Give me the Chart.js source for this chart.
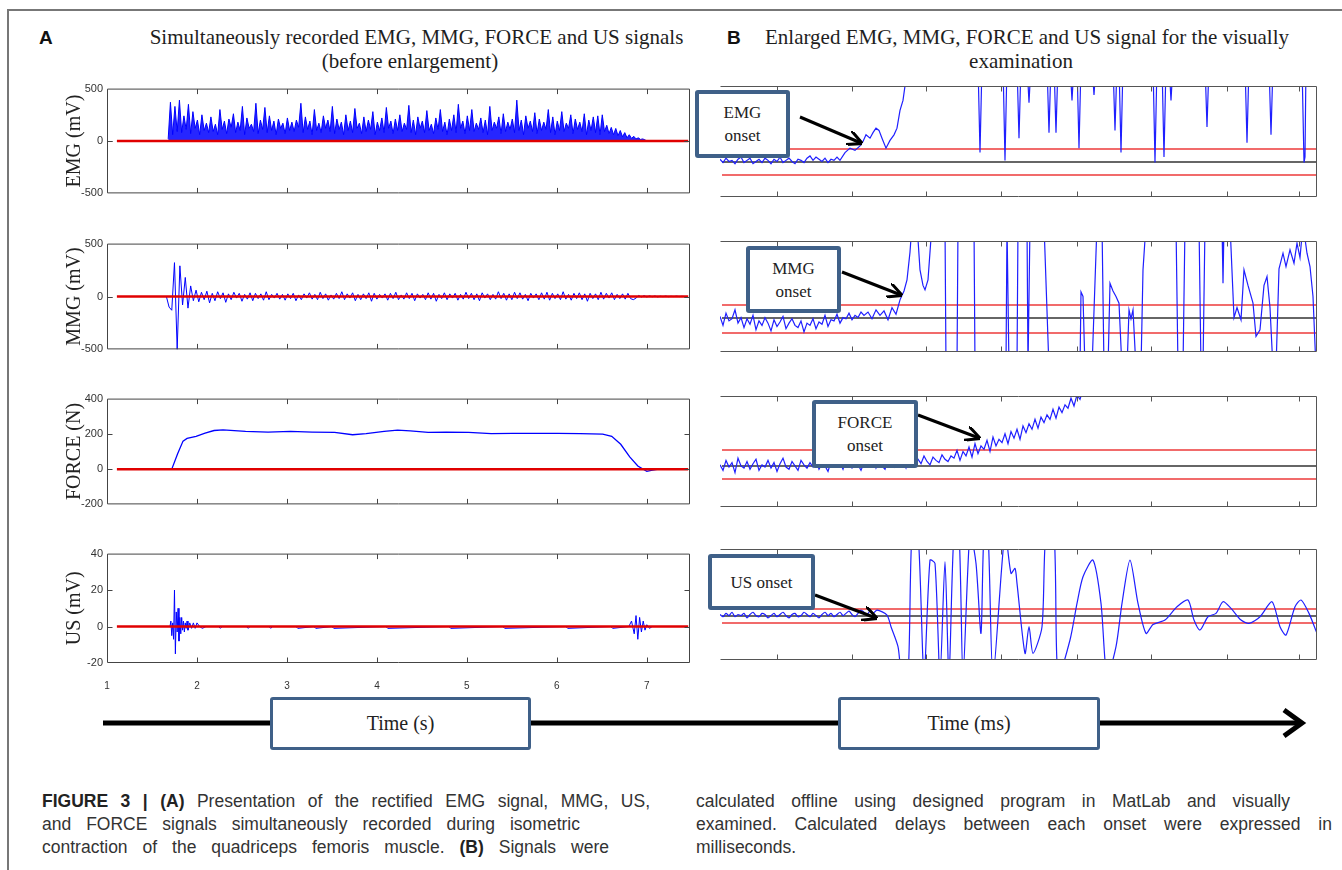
<!DOCTYPE html>
<html>
<head>
<meta charset="utf-8">
<script src="https://cdn.jsdelivr.net/npm/chart.js@4.4.1/dist/chart.umd.min.js"></script>
<style>
  html, body { margin: 0; padding: 0; background: #fff; }
  #page { position: relative; width: 1342px; height: 870px; overflow: hidden; background: #fff; }
  canvas { position: absolute; }
  .frame-top { position: absolute; left: 8px; top: 9px; width: 1334px; height: 0; border-top: 2px solid #777; }
  .frame-left { position: absolute; left: 7px; top: 9px; width: 0; height: 861px; border-left: 2px solid #777; }
  .panel-letter { position: absolute; font: bold 19px "Liberation Sans", Arial, sans-serif; color: #111; }
  .title { position: absolute; font: 21px "Liberation Serif", "Times New Roman", serif; color: #1e1e1e; text-align: center; white-space: nowrap; line-height: 24px; }
  .box { position: absolute; box-sizing: border-box; background: #fff; border: 4px solid #3f6088; border-radius: 3px;
         display: flex; align-items: center; justify-content: center; text-align: center;
         font: 17px "Liberation Serif", "Times New Roman", serif; line-height: 23px; color: #222; z-index: 3; }
  .tbox { border-width: 3px; font-size: 20px; }
  svg { position: absolute; left: 0; top: 0; z-index: 2; }
  .cap { position: absolute; font: 17.5px "Liberation Sans", Arial, sans-serif; color: #333;
         text-align: justify; text-align-last: justify; white-space: nowrap; line-height: 20px; }
  .cap b { color: #222; }
</style>
</head>
<body>
<div id="page">
  <div class="frame-top"></div>
  <div class="frame-left"></div>

  <div class="panel-letter" style="left:39px;top:27px">A</div>
  <div class="title" style="left:145px;top:25px;width:543px">Simultaneously recorded EMG, MMG, FORCE and US signals</div>
  <div class="title" style="left:145px;top:49px;width:530px">(before enlargement)</div>

  <div class="panel-letter" style="left:727px;top:27px">B</div>
  <div class="title" style="left:751px;top:25px;width:552px">Enlarged EMG, MMG, FORCE and US signal for the visually</div>
  <div class="title" style="left:751px;top:49px;width:540px">examination</div>

  <canvas id="emgL" width="632" height="126" style="left:62px;top:78px"></canvas>
  <canvas id="mmgL" width="632" height="127" style="left:62px;top:233px"></canvas>
  <canvas id="forceL" width="632" height="127" style="left:62px;top:388px"></canvas>
  <canvas id="usL" width="632" height="150" style="left:62px;top:543px"></canvas>

  <canvas id="emgR" width="598" height="111" style="left:720px;top:86px"></canvas>
  <canvas id="mmgR" width="598" height="111" style="left:720px;top:241px"></canvas>
  <canvas id="forceR" width="598" height="111" style="left:720px;top:396px"></canvas>
  <canvas id="usR" width="598" height="111" style="left:720px;top:549px"></canvas>

  <svg width="1342" height="870">
    <defs>
      <marker id="ah" viewBox="0 0 10 10" refX="9" refY="5" markerWidth="5" markerHeight="5" orient="auto">
        <path d="M0,0 L10,5 L0,10" fill="none" stroke="#000" stroke-width="2"/>
      </marker>
    </defs>
    <line x1="800" y1="117" x2="861" y2="143" stroke="#000" stroke-width="3" marker-end="url(#ah)"/>
    <line x1="842" y1="272" x2="901" y2="295" stroke="#000" stroke-width="3" marker-end="url(#ah)"/>
    <line x1="918" y1="415" x2="979" y2="438" stroke="#000" stroke-width="3" marker-end="url(#ah)"/>
    <line x1="815" y1="595" x2="876" y2="618" stroke="#000" stroke-width="3" marker-end="url(#ah)"/>
    <line x1="103" y1="723" x2="1300" y2="723" stroke="#000" stroke-width="5"/>
    <polyline points="1284,710 1302,723 1284,736" fill="none" stroke="#000" stroke-width="5"/>
  </svg>

  <div class="box" style="left:695px;top:90px;width:95px;height:68px">EMG<br>onset</div>
  <div class="box" style="left:746px;top:246px;width:95px;height:67px">MMG<br>onset</div>
  <div class="box" style="left:812px;top:400px;width:106px;height:68px">FORCE<br>onset</div>
  <div class="box" style="left:708px;top:554px;width:107px;height:56px">US onset</div>

  <div class="box tbox" style="left:270px;top:697px;width:261px;height:53px">Time (s)</div>
  <div class="box tbox" style="left:838px;top:697px;width:262px;height:53px">Time (ms)</div>

  <div class="cap" style="left:42px;top:791px;width:608px"><b>FIGURE 3 | (A)</b> Presentation of the rectified EMG signal, MMG, US,</div>
  <div class="cap" style="left:42px;top:814px;width:538px">and FORCE signals simultaneously recorded during isometric</div>
  <div class="cap" style="left:42px;top:837px;width:567px">contraction of the quadriceps femoris muscle. <b>(B)</b> Signals were</div>
  <div class="cap" style="left:696px;top:791px;width:594px">calculated offline using designed program in MatLab and visually</div>
  <div class="cap" style="left:696px;top:814px;width:636px">examined. Calculated delays between each onset were expressed in</div>
  <div class="cap" style="left:696px;top:837px;text-align-last:left">milliseconds.</div>
</div>

<script>
// ---- Panel A data (time in s) ----
const timeTicks = [2, 3, 4, 5, 6, 7];
const zeroLineT = [1.11, 7.46];

// rectified EMG, sampled every 0.025 s from 1.68 s
const emgStart = 1.68, emgStep = 0.025;
const emgValues = [
  20, 370, 60, 330, 90, 390, 80, 240, 110, 350,
  70, 280, 120, 200, 60, 250, 100, 170, 80, 230,
  90, 160, 60, 300, 110, 190, 70, 210, 130, 260,
  80, 180, 100, 330, 60, 220, 120, 160, 90, 360,
  70, 200, 110, 320, 80, 240, 100, 190, 60, 210,
  120, 170, 70, 220, 100, 180, 90, 200, 130, 360,
  80, 230, 110, 190, 60, 300, 100, 170, 80, 240,
  120, 200, 90, 330, 70, 210, 110, 180, 60, 250,
  100, 190, 80, 310, 120, 170, 70, 230, 90, 200,
  110, 280, 60, 180, 100, 220, 80, 320, 120, 190,
  70, 210, 100, 250, 90, 170, 110, 340, 80, 200,
  60, 230, 120, 190, 80, 290, 100, 160, 70, 220,
  110, 300, 90, 180, 60, 210, 100, 250, 80, 350,
  120, 190, 70, 240, 100, 300, 90, 170, 110, 220,
  80, 200, 60, 330, 100, 180, 120, 230, 70, 260,
  90, 180, 110, 210, 80, 390, 100, 200, 60, 240,
  120, 190, 90, 270, 70, 210, 100, 180, 110, 300,
  80, 230, 60, 190, 100, 280, 90, 170, 120, 250,
  70, 210, 110, 180, 90, 260, 60, 200, 100, 230,
  80, 240, 60, 250, 90, 150, 70, 130, 60, 120,
  50, 100, 40, 80, 30, 60, 25, 45, 20, 30,
  15, 20, 10, 0
];

// MMG, sampled every 0.03 s from 1.66 s
const mmgStart = 1.66, mmgStep = 0.03;
const mmgValues = [
  0, -100, -130, 320, -500, 290, -80, 180, -110, 100, -40, 60, -50, 40, -30, 50, -60, 30, -40, 45,
  -20, 35, -55, 25, -30, 40, -15, 30, -45, 20,
  -25, 35, -40, 30, -20, 25, -35, 45, -30, 20,
  -15, 30, -25, 20, -35, 25, -20, 30, -40, 15,
  -30, 25, -15, 35, -25, 20, -30, 40, -20, 25,
  -35, 15, -25, 30, -20, 45, -30, 25, -15, 35,
  -40, 20, -30, 25, -20, 35, -45, 30, -25, 20,
  -15, 25, -35, 30, -20, 40, -30, 15, -25, 35,
  -20, 30, -40, 25, -15, 20, -30, 35, -25, 30,
  -45, 20, -20, 35, -30, 25, -15, 30, -35, 20,
  -25, 40, -20, 30, -30, 25, -40, 35, -15, 25,
  -30, 20, -25, 45, -20, 30, -35, 25, -30, 40,
  -20, 35, -25, 20, -40, 30, -15, 25, -30, 35,
  -25, 40, -35, 30, -20, 25, -30, 45, -25, 20,
  -35, 30, -20, 35, -30, 25, -45, 30, -20, 25,
  -30, 40, -25, 30, -15, 35, -30, 20, -20, 25,
  -25, 30, -20,
  -30, -15, 10, -5, 8, -5, 6, -3, 5, -4, 3, -2, 4, -2, 2, -1, 3, -1, 2, 0, 0
];

const forceT = [1.72, 1.785, 1.845, 1.89, 1.99, 2.09, 2.19, 2.29, 2.54, 2.79, 3.04, 3.28, 3.53, 3.73, 3.88, 4.08, 4.23,
  4.37, 4.57, 4.77, 5.02, 5.27, 5.51, 5.76, 6.01, 6.26, 6.51, 6.61, 6.71, 6.81, 6.90, 7.00, 7.05, 7.13];
const forceV = [0, 87, 159, 174, 186, 204, 219, 223, 214, 210, 214, 210, 208, 195, 201, 214, 221,
  217, 208, 210, 208, 201, 203, 203, 203, 201, 199, 186, 141, 69, 18, -13, -7, 0];

const usT = [1.60, 1.70, 1.71, 1.72, 1.73, 1.74, 1.75, 1.76, 1.77, 1.78, 1.79, 1.80, 1.81, 1.82, 1.83, 1.84, 1.85, 1.86,
  1.87, 1.88, 1.89, 1.90, 1.92, 1.94, 1.96, 1.98, 2.00, 2.03, 2.06, 2.10, 2.24, 2.26, 2.28, 2.55, 2.57, 2.59, 2.80, 2.82,
  2.84, 3.10, 3.12, 3.30, 3.32, 3.50, 3.52, 4.10, 4.12, 4.80, 4.82, 5.40, 5.42, 6.10, 6.12, 6.60, 6.62, 6.80, 6.83, 6.86,
  6.88, 6.90, 6.92, 6.94, 6.96, 6.98, 7.00, 7.03, 7.06, 7.45];
const usV = [0, 0, 3, -5, 2, -7, 20, -15, 8, -3, 10, -8, 5, -4, 5, -2, 3, -3,
  2, -1, 3, -2, 2, -1, 2, -1, 2, 0, -1, 0, 0, -1, 0, 0, -1, 0, 0, -1,
  0, 0, -1, 0, -1, 0, -1, 0, -1, 0, -1, 0, -1, 0, -1, 0, -1, 0, 3, -4,
  6, -7, 5, -3, 3, -2, 1, -1, 0, 0];

// ---- Panel B data (time in ms, amplitude in arbitrary 0-100 display units) ----
const msTicks = [57, 132, 206, 281, 357, 431, 507, 579];
const msRange = [2, 597];
const baseStep = 3;

const emgRBase = [34, 31, 35, 32, 33, 30, 34, 36, 31, 33, 35, 30, 32, 34, 31, 35, 33, 30, 34, 32, 36,
  31, 33, 35, 32, 30, 34, 33, 31, 35, 37, 33, 36, 34, 32, 35, 31, 34, 33, 36, 33];
const emgRX = [125, 130, 135, 140, 143, 146, 150, 153, 156, 159, 162, 166, 170, 174, 177, 180, 183, 185, 188,
  258, 260, 262, 283, 285, 287, 297, 299, 301, 307, 309, 311, 327, 329, 331, 334, 336, 338, 350, 352, 354,
  357, 359, 361, 372, 374, 376, 393, 395, 397, 399, 401, 403, 433, 435, 437, 442, 444, 446, 449, 451, 453,
  485, 487, 489, 525, 527, 529, 549, 551, 553, 582, 584, 585, 586, 597];
const emgRY = [40, 44, 42, 46, 50, 56, 53, 58, 62, 60, 53, 44, 51, 56, 62, 78, 87, 100, 120,
  120, 40, 120, 120, 33, 120, 120, 53, 120, 120, 85, 120, 120, 58, 120, 120, 58, 120, 120, 87, 120,
  120, 44, 120, 120, 92, 120, 120, 60, 120, 120, 40, 120, 120, 31, 120, 120, 36, 120, 120, 87, 120,
  120, 63, 120, 120, 49, 120, 120, 56, 120, 120, 31, 36, 120, 120];
const emgRThr = [43.2, 31.5, 19.8];

const mmgRBase = [32, 24, 35, 28, 30, 38, 26, 31,
  22, 30, 25, 33, 20, 28, 24, 31, 26, 19, 29, 23, 27, 32, 21, 26, 30, 24,
  22, 28, 18, 26, 24, 30, 21, 27, 25, 33, 23, 29, 28, 34, 26, 31, 30, 35, 29, 33,
  31, 36, 33];
const mmgRX = [148, 152, 156, 160, 164, 168, 172, 176, 180, 184, 187, 190, 192, 197, 200, 203, 205, 208, 212, 225,
  226, 237, 238, 254, 255, 286, 287, 289, 297, 298, 307, 308, 310, 324, 329, 360, 361, 363, 365, 372,
  377, 382, 384, 388, 390, 393, 396, 399, 402, 407, 409, 411, 413, 416, 421, 423, 426, 456, 458, 463,
  465, 479, 481, 483, 485, 502, 503, 504, 510, 514, 517, 521, 524, 528, 533, 536, 540, 544, 547, 550,
  553, 556, 559, 563, 566, 570, 574, 577, 580, 583, 587, 590, 593, 596];
const mmgRY = [36, 30, 38, 33, 37, 29, 40, 34, 47, 55, 65, 90, 115, 115, 74, 60, 56, 65, 115, 115,
  -15, -15, 115, 115, -15, -15, 115, -15, -15, 115, 115, -15, 115, 115, -15, -15, 54, 50, -15, -15,
  115, 115, -15, -15, 62, 55, 50, 44, -15, -15, 38, 30, 38, -15, -15, 74, 115, 115, -15, -15,
  115, 115, -15, -15, 115, 115, 62, 115, 115, 31, 40, 29, 74, 60, 44, 14, 20, 60, 68, 40,
  -15, -15, 75, 89, 77, 92, 80, 98, 85, 115, 89, 77, 50, -15];
const mmgRThr = [42.3, 30.6, 17.1];

const forceRValues = [
  38, 33, 42, 36, 40, 31, 44, 37, 35, 41, 34, 39, 43, 33, 38, 36, 42, 35, 40, 32,
  39, 44, 36, 34, 41, 37, 33, 42, 38, 35, 40, 36, 43, 34, 39, 37, 32, 41, 38, 36,
  40, 34, 43, 37, 35, 42, 38, 33, 40, 36, 39, 44, 35, 41, 37, 34, 42, 39, 36, 43,
  38, 41, 35, 44, 40, 37, 43, 39, 46, 41, 38, 45, 42, 40, 47, 43, 41, 46, 44,
  51, 42, 50, 46, 54, 45, 57, 48, 55, 52, 60, 50, 63, 55, 61, 58, 66, 57, 68, 62,
  70, 61, 73, 67, 75, 70, 79, 71, 81, 76, 83, 79, 88, 80, 90, 85, 92, 89, 98, 91,
  101, 97, 106, 104
];
const forceRThr = [51.4, 36.9, 25.2];

const usRBase = [41, 39, 42, 40, 43, 39, 41, 40, 42, 38, 41, 43, 40, 39, 42, 41, 38, 40, 42, 39,
  41, 43, 40, 38, 41, 42, 39, 40, 43, 41, 39, 42, 40, 38, 41, 43, 40, 42, 39, 41,
  43, 40, 42, 44, 41, 39, 42, 45, 43, 41, 44, 42];
const usRX = [157, 167, 171, 178, 182, 188, 192, 198, 204, 210, 215, 220, 225, 229, 234, 239, 243, 250, 256, 261,
  264, 268, 273, 285, 291, 295, 297, 305, 309, 313, 322, 326, 334, 338, 350, 357, 363, 373, 381, 387,
  396, 402, 410, 418, 426, 433, 445, 457, 468, 474, 480, 488, 496, 503, 511, 521, 529, 540, 552, 560,
  566, 575, 581, 589, 597];
const usRY = [45, 40.5, 30, 12, -15, -15, 115, 115, -15, 90, 87, -15, 88.6, -15, 115, 115, -15, 115, 87, 24,
  115, 115, -15, 115, 78, 82.5, 69, 6, 30, 6, 30, 115, 115, -15, 18, 51, 75, 90, 51, -15,
  12, 51, 90, 51, 24, 32, 36, 48, 54, 36, 27, 39, 42, 52.5, 46.5, 36, 33, 39, 52.5, 30,
  22.5, 48, 54, 42, 24];
const usRThr = [45.9, 39.6, 33.3];

// ---- helpers ----
function seq(start, step, vals) {
  return vals.map((v, i) => ({ x: +(start + i * step).toFixed(4), y: v }));
}
function pairs(xs, ys) {
  return xs.map((x, i) => ({ x: x, y: ys[i] }));
}
function hline(xr, y) {
  return [{ x: xr[0], y: y }, { x: xr[1], y: y }];
}

const frame = {
  id: 'frame',
  afterDatasetsDraw(chart, args, o) {
    const { ctx, chartArea: a, scales } = chart;
    const L = a.left + 0.5, R = a.right - 0.5, T = a.top + 0.5, B = a.bottom - 0.5;
    ctx.save();
    ctx.strokeStyle = o.color || '#444';
    ctx.lineWidth = 1;
    ctx.beginPath();
    ctx.moveTo(L, T); ctx.lineTo(R, T); ctx.lineTo(R, B); ctx.lineTo(L, B);
    if (o.left !== false) ctx.lineTo(L, T);
    (o.xTicks || []).forEach(v => {
      const p = Math.round(scales.x.getPixelForValue(v)) + 0.5;
      ctx.moveTo(p, T); ctx.lineTo(p, T + 5);
      ctx.moveTo(p, B); ctx.lineTo(p, B - 5);
    });
    (o.yTicks || []).forEach(v => {
      const p = Math.round(scales.y.getPixelForValue(v)) + 0.5;
      ctx.moveTo(L, p); ctx.lineTo(L + 5, p);
      ctx.moveTo(R, p); ctx.lineTo(R - 5, p);
    });
    ctx.stroke();
    ctx.restore();
  }
};

const BLUE = '#0000ff';
const RED = '#e00000';

function leftChart(id, title, min, max, step, signal, withLabels) {
  return new Chart(document.getElementById(id), {
    type: 'line',
    data: {
      datasets: [
        { data: hline(zeroLineT, 0), borderColor: RED, borderWidth: 2.5 },
        signal
      ]
    },
    options: {
      responsive: false, animation: false, events: [],
      layout: { padding: { top: 8, bottom: withLabels ? 0 : 8, right: 4, left: 0 } },
      elements: { point: { radius: 0 }, line: { borderWidth: 1, tension: 0 } },
      plugins: {
        legend: { display: false }, tooltip: { enabled: false },
        frame: { color: '#444', xTicks: timeTicks, yTicks: [min + step, max - step] }
      },
      scales: {
        x: {
          type: 'linear', min: 1, max: 7.48, display: withLabels,
          grid: { display: false, drawTicks: false }, border: { display: false },
          ticks: { stepSize: 1, includeBounds: false, autoSkip: false, maxRotation: 0, padding: 17,
                   color: '#333', font: { family: 'Liberation Sans', size: 10 } },
          afterFit: s => { s.height = withLabels ? 30 : 0; }
        },
        y: {
          min: min, max: max,
          grid: { display: false, drawTicks: false }, border: { display: false },
          ticks: { stepSize: step, padding: 4, color: '#333',
                   font: { family: '"Liberation Sans Narrow", "Liberation Sans", Arial', size: 11 } },
          title: { display: true, text: title, color: '#222', padding: { top: 1, bottom: 0 },
                   font: { family: '"Liberation Serif", "Times New Roman", serif', size: 20 } },
          afterFit: s => { s.width = 45; }
        }
      }
    },
    plugins: [frame]
  });
}

function rightChart(id, signal, thr) {
  return new Chart(document.getElementById(id), {
    type: 'line',
    data: {
      datasets: [
        signal,
        { data: hline(msRange, thr[0]), borderColor: 'rgba(238,70,70,0.8)', borderWidth: 2 },
        { data: hline(msRange, thr[1]), borderColor: '#333', borderWidth: 1.5 },
        { data: hline(msRange, thr[2]), borderColor: 'rgba(238,70,70,0.8)', borderWidth: 2 }
      ]
    },
    options: {
      responsive: false, animation: false, events: [],
      layout: { padding: { top: 0, bottom: 0, left: 0, right: 1 } },
      elements: { point: { radius: 0 }, line: { borderWidth: 1.2, tension: 0 } },
      plugins: {
        legend: { display: false }, tooltip: { enabled: false },
        frame: { color: '#555', left: false, xTicks: msTicks }
      },
      scales: {
        x: { type: 'linear', min: 0, max: 597, display: false },
        y: { min: 0, max: 100, display: false }
      }
    },
    plugins: [frame]
  });
}

leftChart('emgL', 'EMG (mV)', -500, 500, 500,
  { data: seq(emgStart, emgStep, emgValues), borderColor: BLUE, borderWidth: 1,
    fill: 'origin', backgroundColor: 'rgba(0,0,255,0.85)' }, false);
leftChart('mmgL', 'MMG (mV)', -500, 500, 500,
  { data: seq(mmgStart, mmgStep, mmgValues), borderColor: BLUE, borderWidth: 1 }, false);
leftChart('forceL', 'FORCE (N)', -200, 400, 200,
  { data: pairs(forceT, forceV), borderColor: BLUE, borderWidth: 1.3 }, false);
leftChart('usL', 'US (mV)', -20, 40, 20,
  { data: pairs(usT, usV), borderColor: BLUE, borderWidth: 1 }, true);

const RBLUE = '#1f1fff';
rightChart('emgR', { data: seq(0, baseStep, emgRBase).concat(pairs(emgRX, emgRY)), borderColor: RBLUE }, emgRThr);
rightChart('mmgR', { data: seq(0, baseStep, mmgRBase).concat(pairs(mmgRX, mmgRY)), borderColor: RBLUE }, mmgRThr);
rightChart('forceR', { data: seq(0, baseStep, forceRValues), borderColor: RBLUE }, forceRThr);
rightChart('usR', { data: seq(0, baseStep, usRBase).concat(pairs(usRX, usRY)), borderColor: RBLUE, tension: 0.25 }, usRThr);
</script>
</body>
</html>
